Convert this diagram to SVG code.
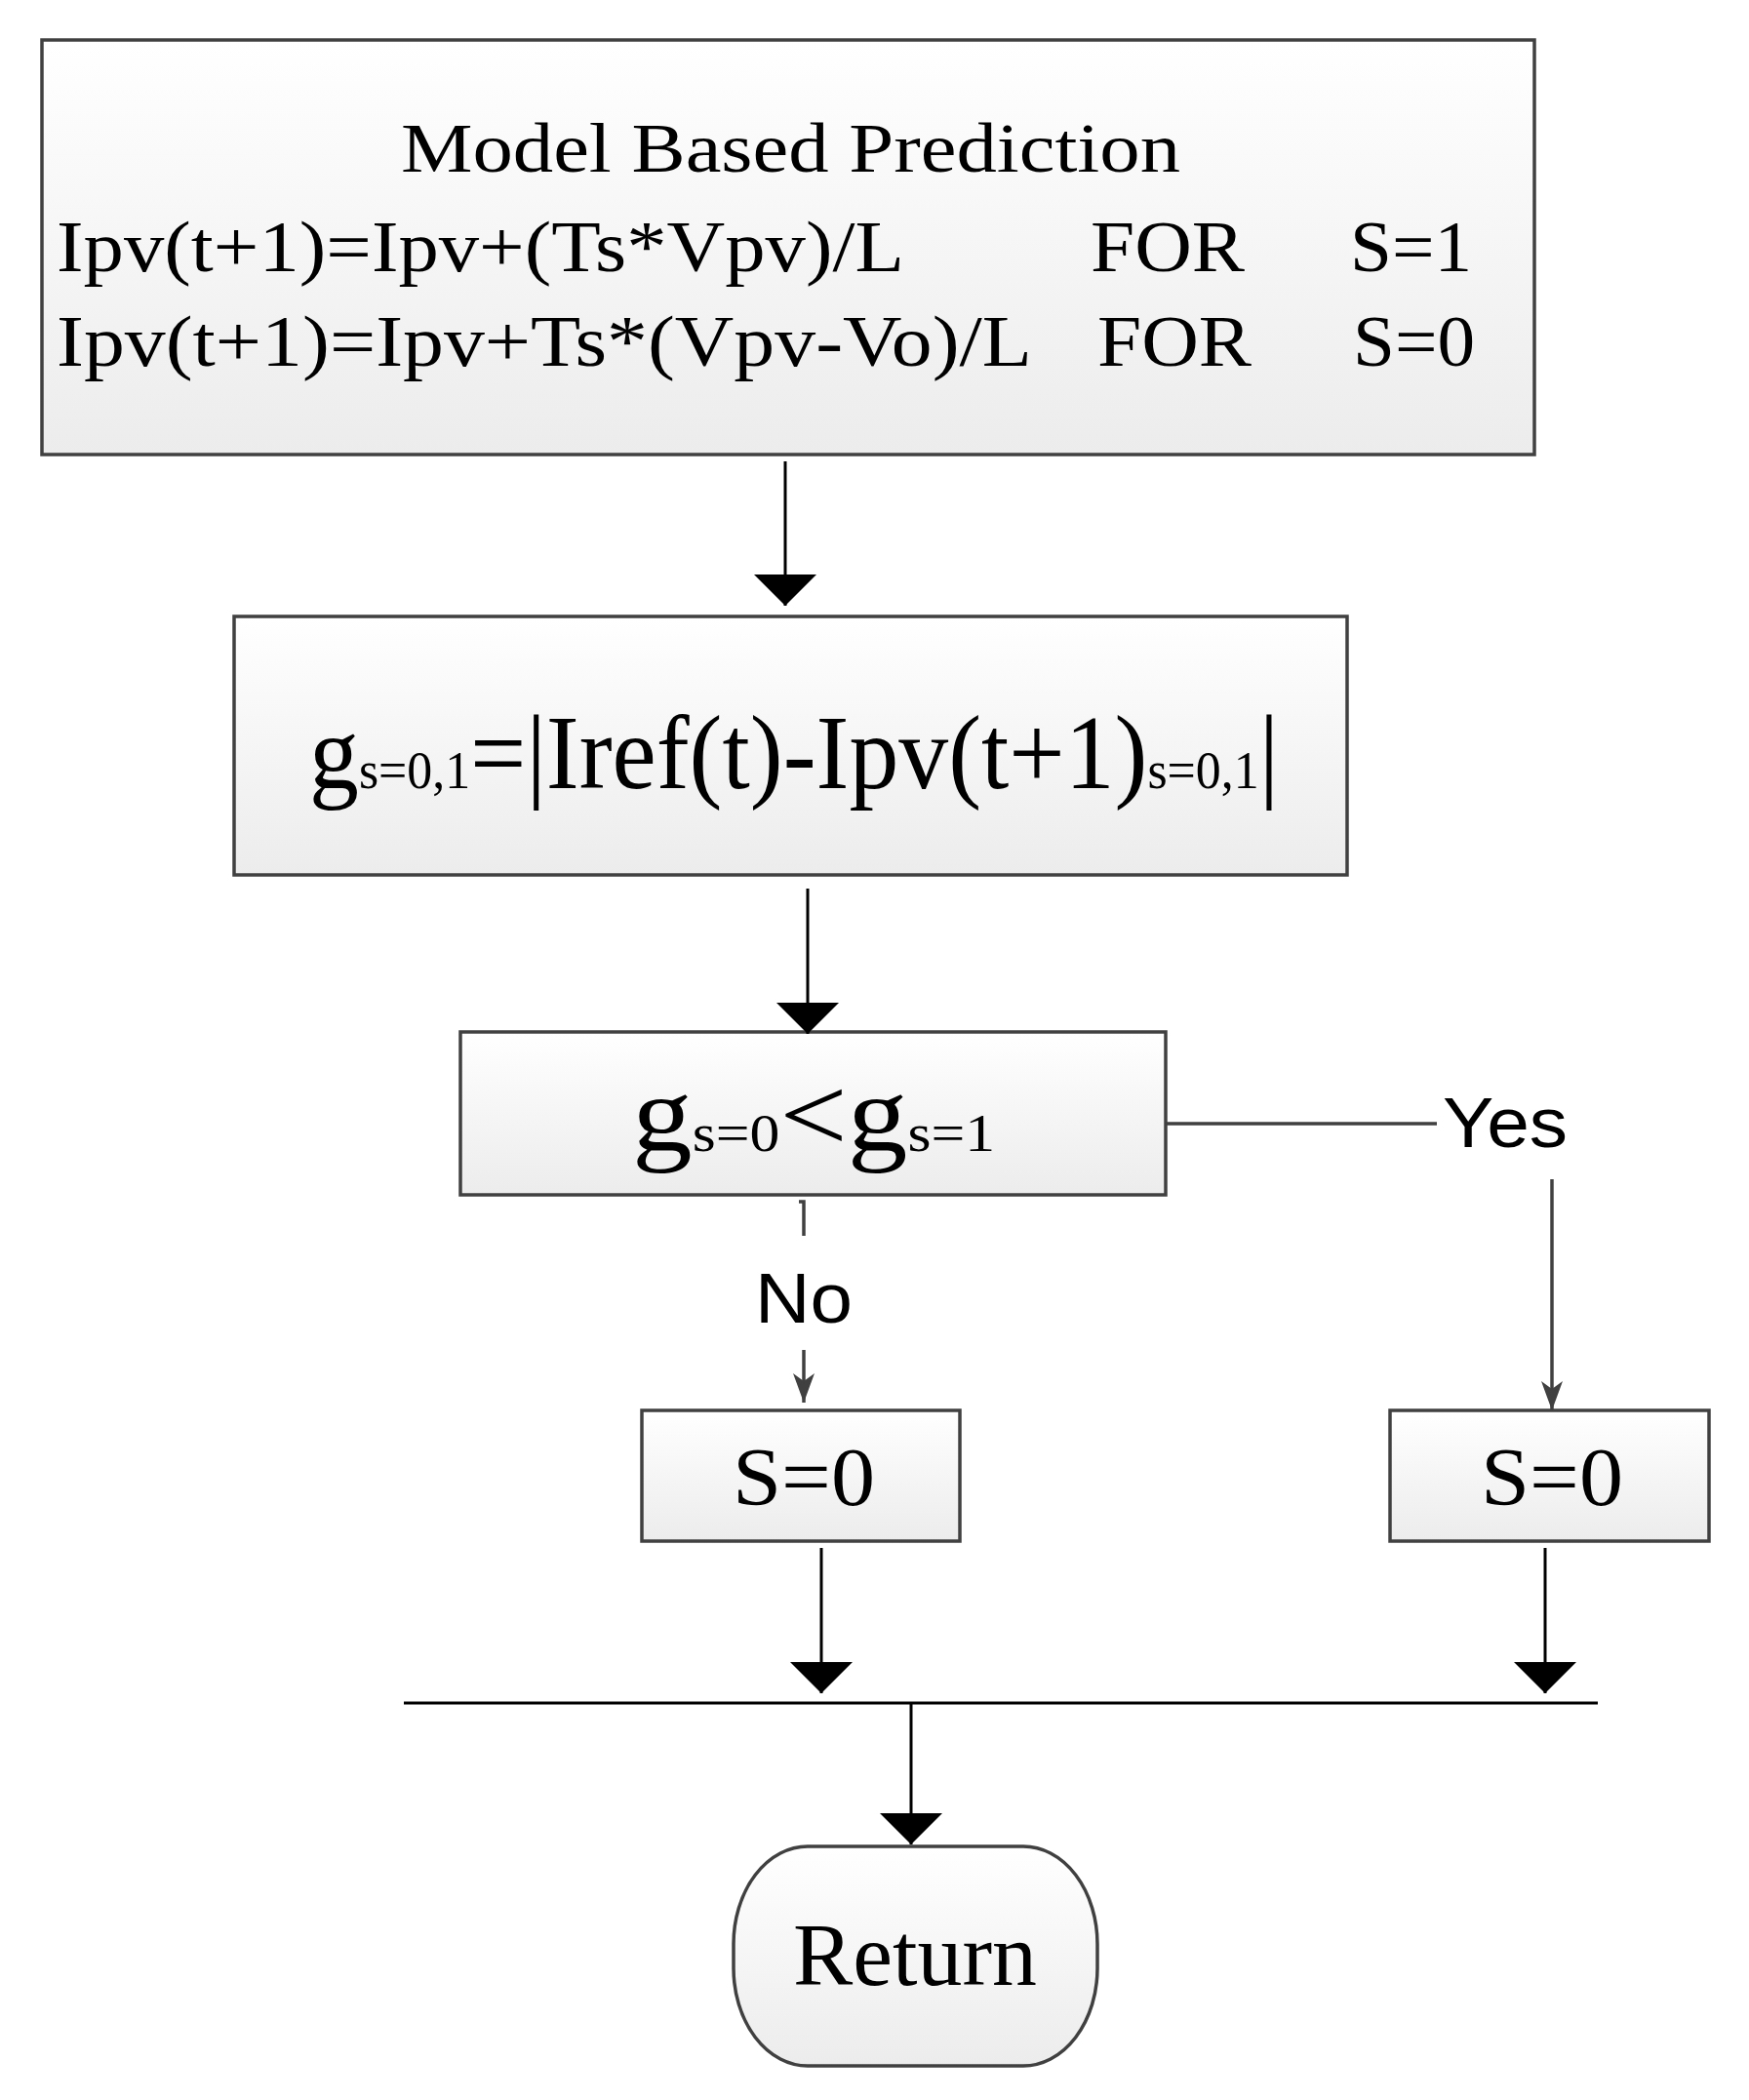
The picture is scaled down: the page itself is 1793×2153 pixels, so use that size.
<svg xmlns="http://www.w3.org/2000/svg" width="1793" height="2153" viewBox="0 0 1793 2153">
<defs>
<linearGradient id="gr" x1="0" y1="0" x2="0" y2="1"><stop offset="0" stop-color="#ffffff"/><stop offset="1" stop-color="#ececec"/></linearGradient>
<marker id="big" markerUnits="userSpaceOnUse" markerWidth="32" markerHeight="64" refX="32" refY="32" orient="auto"><path d="M0,0 L32,32 L0,64 Z" fill="#000"/></marker>
<marker id="sm" markerUnits="userSpaceOnUse" markerWidth="30" markerHeight="24" refX="30" refY="12" orient="auto"><path d="M0,1 L30,12 L0,23 L8,12 Z" fill="#404040"/></marker>
</defs>
<style>
.box{fill:url(#gr);stroke:#404040;stroke-width:3.5}
.t{font-family:"Liberation Serif",serif;fill:#000}
.s{font-family:"Liberation Sans Narrow","Liberation Sans",sans-serif;fill:#000}
.c{stroke:#000;stroke-width:3;fill:none}
.g{stroke:#404040;stroke-width:3.5;fill:none}
</style>
<g id="n1"><rect class="box" x="43" y="41" width="1530" height="425"/>
<text class="t" x="411" y="176" font-size="72" textLength="799" lengthAdjust="spacingAndGlyphs">Model Based Prediction</text>
<text class="t" x="58" y="278" font-size="74" textLength="869" lengthAdjust="spacingAndGlyphs">Ipv(t+1)=Ipv+(Ts*Vpv)/L</text>
<text class="t" x="1118" y="278" font-size="74" textLength="158" lengthAdjust="spacingAndGlyphs">FOR</text>
<text class="t" x="1384" y="278" font-size="74" textLength="125" lengthAdjust="spacingAndGlyphs">S=1</text>
<text class="t" x="58" y="375" font-size="74" textLength="1000" lengthAdjust="spacingAndGlyphs">Ipv(t+1)=Ipv+Ts*(Vpv-Vo)/L</text>
<text class="t" x="1125" y="375" font-size="74" textLength="158" lengthAdjust="spacingAndGlyphs">FOR</text>
<text class="t" x="1387" y="375" font-size="74" textLength="125" lengthAdjust="spacingAndGlyphs">S=0</text></g>
<g id="n2"><rect class="box" x="240" y="632" width="1141" height="265"/>
<text class="t" x="317" y="808" font-size="108" textLength="994" lengthAdjust="spacingAndGlyphs">g<tspan font-size="55">s=0,1</tspan>=|Iref(t)-Ipv(t+1)<tspan font-size="55">s=0,1</tspan>|</text></g>
<g id="n3"><rect class="box" x="472" y="1058" width="723" height="167"/>
<text class="t" x="648" y="1180" font-size="110" textLength="372" lengthAdjust="spacingAndGlyphs">g<tspan font-size="55">s=0</tspan>&lt;g<tspan font-size="55">s=1</tspan></text></g>
<g id="n4"><rect class="box" x="658" y="1446" width="326" height="134"/>
<text class="t" x="824" y="1543" font-size="84" text-anchor="middle" textLength="146" lengthAdjust="spacingAndGlyphs">S=0</text></g>
<g id="n5"><rect class="box" x="1425" y="1446" width="327" height="134"/>
<text class="t" x="1591" y="1543" font-size="84" text-anchor="middle" textLength="146" lengthAdjust="spacingAndGlyphs">S=0</text></g>
<g id="n6"><rect class="box" x="752" y="1893" width="373" height="225" rx="76" ry="100"/>
<text class="t" x="938" y="2035" font-size="92" text-anchor="middle" textLength="250" lengthAdjust="spacingAndGlyphs">Return</text></g>
<g id="connectors">
<line class="c" x1="805" y1="473" x2="805" y2="621" marker-end="url(#big)"/>
<line class="c" x1="828" y1="911" x2="828" y2="1060" marker-end="url(#big)"/>
<polyline class="g" points="1195,1152 1473,1152"/>
<text class="s" x="1479" y="1176" font-size="72" textLength="128" lengthAdjust="spacingAndGlyphs">Yes</text>
<line class="g" x1="1591" y1="1209" x2="1591" y2="1446" marker-end="url(#sm)"/>
<polyline class="g" points="819,1232 824,1232 824,1267"/>
<text class="s" x="824" y="1356" font-size="72" text-anchor="middle" textLength="100" lengthAdjust="spacingAndGlyphs">No</text>
<line class="g" x1="824" y1="1384" x2="824" y2="1438" marker-end="url(#sm)"/>
<line class="c" x1="842" y1="1587" x2="842" y2="1736" marker-end="url(#big)"/>
<line class="c" x1="1584" y1="1587" x2="1584" y2="1736" marker-end="url(#big)"/>
<line class="c" x1="414" y1="1746" x2="1638" y2="1746"/>
<line class="c" x1="934" y1="1746" x2="934" y2="1891" marker-end="url(#big)"/>
</g>
</svg>
